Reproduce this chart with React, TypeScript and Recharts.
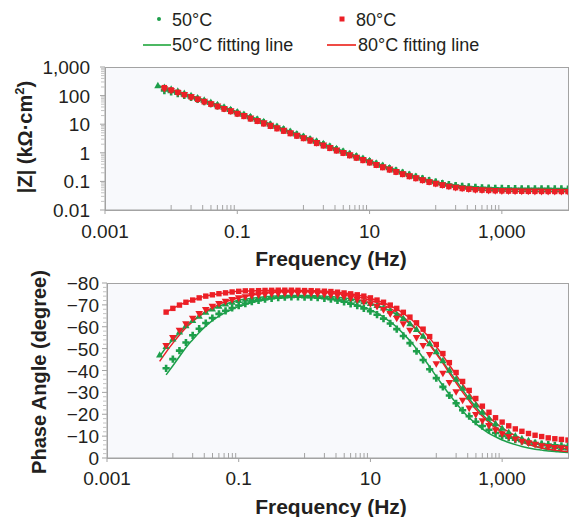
import React from "react";
import { ComposedChart, Line, XAxis, YAxis } from "recharts";

// frequencies, 10 points per decade (Hz)
const freq = [
  0.0063, 0.0079, 0.01, 0.0126, 0.0158, 0.02, 0.0251, 0.0316, 0.0398, 0.0501, 0.0631, 0.0794,
  0.1, 0.126, 0.158, 0.2, 0.251, 0.316, 0.398, 0.501, 0.631, 0.794,
  1, 1.26, 1.58, 2, 2.51, 3.16, 3.98, 5.01, 6.31, 7.94,
  10, 12.6, 15.8, 20, 25.1, 31.6, 39.8, 50.1, 63.1, 79.4,
  100, 126, 158, 200, 251, 316, 398, 501, 631, 794,
  1000, 1259, 1585, 1995, 2512, 3162, 3981, 5012, 6310, 7943, 10000,
];

// |Z| in kΩ·cm²
const mag50a = [
  null, 150, 135, 117, 101, 86.9, 73.6, 61.9, 51.9, 43.3, 35.9, 29.7,
  24.5, 20.3, 16.7, 13.8, 11.3, 9.31, 7.69, 6.31, 5.18, 4.25,
  3.48, 2.86, 2.34, 1.92, 1.58, 1.29, 1.06, 0.877, 0.721, 0.596,
  0.491, 0.406, 0.337, 0.279, 0.233, 0.196, 0.166, 0.141, 0.122, 0.106,
  0.094, 0.0841, 0.0769, 0.0713, 0.0671, 0.0639, 0.0616, 0.0597, 0.0585, 0.0574,
  0.0566, 0.0561, 0.0556, 0.0553, 0.055, 0.0549, 0.0547, 0.0546, 0.0545, 0.0544, 0.0543,
];
const mag50b = [
  223, 195, 168, 143, 121, 101, 84.5, 70.3, 58.2, 48.2, 39.8, 32.8,
  27.0, 22.2, 18.5, 15.1, 12.4, 10.2, 8.36, 6.85, 5.62, 4.61,
  3.78, 3.1, 2.55, 2.09, 1.71, 1.41, 1.15, 0.95, 0.78, 0.644,
  0.531, 0.438, 0.363, 0.301, 0.251, 0.209, 0.177, 0.15, 0.129, 0.111,
  0.0975, 0.0867, 0.0783, 0.0718, 0.0668, 0.0634, 0.0607, 0.0587, 0.057, 0.0558,
  0.0553, 0.0545, 0.054, 0.0536, 0.0532, 0.053, 0.0528, 0.0527, 0.0526, 0.0525, 0.0524,
];
const mag80a = [
  null, 190, 158, 131, 108, 89.5, 73.8, 60.7, 50.0, 41.1, 33.8, 27.8,
  22.8, 18.7, 15.3, 12.6, 10.3, 8.47, 6.95, 5.7, 4.68, 3.84,
  3.16, 2.59, 2.13, 1.75, 1.43, 1.17, 0.966, 0.794, 0.655, 0.54,
  0.445, 0.366, 0.303, 0.252, 0.21, 0.175, 0.148, 0.126, 0.108, 0.0933,
  0.0818, 0.0728, 0.0659, 0.0604, 0.0564, 0.0533, 0.0512, 0.0494, 0.0482, 0.0472,
  0.0465, 0.0459, 0.0455, 0.0452, 0.0449, 0.0447, 0.0446, 0.0445, 0.0444, 0.0443, 0.0442,
];
const mag80b = [
  null, 170, 147, 125, 106, 88.5, 74.0, 61.5, 50.9, 42.2, 34.8, 28.7,
  23.6, 19.5, 16.1, 13.2, 10.9, 8.91, 7.31, 6.0, 4.92, 4.04,
  3.31, 2.72, 2.23, 1.83, 1.5, 1.23, 1.01, 0.832, 0.684, 0.564,
  0.465, 0.384, 0.317, 0.263, 0.218, 0.182, 0.153, 0.13, 0.111, 0.0957,
  0.0834, 0.074, 0.0664, 0.0607, 0.0564, 0.0532, 0.0507, 0.0489, 0.0474, 0.0465,
  0.0458, 0.0451, 0.0447, 0.0444, 0.0441, 0.0439, 0.0438, 0.0437, 0.0436, 0.0435, 0.0435,
];

// phase angle, degrees
const phase50a = [
  null, -41.0, -45.2, -49.1, -52.8, -56.1, -59.1, -61.7, -64.0, -65.9, -67.3, -68.6,
  -69.7, -70.6, -71.5, -72.1, -72.6, -73.0, -73.3, -73.5, -73.6, -73.7,
  -73.5, -73.5, -73.3, -73.0, -72.6, -72.0, -71.4, -70.5, -69.6, -68.4,
  -67.1, -65.5, -63.7, -61.5, -58.9, -55.8, -52.5, -48.8, -44.8, -40.6,
  -36.5, -32.5, -28.6, -25.0, -21.8, -19.1, -16.6, -14.6, -12.9, -11.4,
  -10.1, -9.3, -8.4, -7.7, -7.1, -6.7, -6.4, -6.1, -5.8, -5.6, -5.5,
];
const phase50b = [
  -47.1, -51.0, -54.5, -57.7, -60.5, -62.9, -64.9, -66.7, -68.2, -69.4, -70.4, -71.3,
  -72.1, -72.6, -73.0, -73.4, -73.7, -74.0, -74.1, -74.2, -74.3, -74.3,
  -74.3, -74.2, -74.1, -74.0, -73.8, -73.5, -73.2, -72.8, -72.2, -71.5,
  -70.7, -69.8, -68.6, -67.3, -65.7, -63.8, -61.4, -58.8, -55.7, -52.3,
  -48.6, -44.5, -40.2, -36.1, -31.9, -27.9, -24.3, -21.0, -18.2, -15.7,
  -13.6, -11.8, -10.2, -8.9, -8.0, -7.1, -6.4, -5.7, -5.3, -4.9, -4.6,
];
const phase80a = [
  null, -66.7, -68.4, -69.9, -71.2, -72.2, -73.2, -74.0, -74.6, -75.1, -75.5, -75.9,
  -76.2, -76.4, -76.4, -76.5, -76.6, -76.65, -76.7, -76.7, -76.7, -76.65,
  -76.55, -76.5, -76.35, -76.25, -76.1, -75.8, -75.45, -75.05, -74.6, -74.0,
  -73.2, -72.2, -71.2, -69.9, -68.4, -66.6, -64.4, -61.8, -58.9, -55.5,
  -51.9, -47.75, -43.6, -39.1, -35.0, -30.9, -27.2, -23.7, -20.9, -18.4,
  -16.4, -14.7, -13.3, -12.2, -11.2, -10.4, -9.8, -9.2, -8.8, -8.5, -8.2,
];
const phase80b = [
  null, -51.3, -54.9, -58.3, -61.2, -63.8, -65.9, -67.7, -69.2, -70.5, -71.5, -72.3,
  -73.1, -73.6, -74.1, -74.4, -74.7, -75.0, -75.1, -75.2, -75.2, -75.2,
  -75.3, -75.2, -75.0, -74.8, -74.4, -74.1, -73.6, -73.1, -72.3, -71.3,
  -70.4, -69.2, -67.7, -65.9, -63.8, -61.2, -58.3, -54.9, -51.3, -47.2,
  -43.0, -38.6, -34.4, -30.2, -26.3, -22.7, -19.7, -16.9, -14.7, -12.7,
  -11.0, -9.7, -8.5, -7.5, -6.8, -6.1, -5.5, -5.1, -4.7, -4.5, -4.2,
];

// fitting lines, phase
const fit50a = [
  null, -38.0, -42.2, -46.4, -50.5, -54.1, -57.4, -60.3, -62.8, -64.9, -66.5, -68.0,
  -69.2, -70.2, -71.1, -71.8, -72.3, -72.8, -73.1, -73.4, -73.6, -73.6,
  -73.6, -73.6, -73.3, -73.0, -72.7, -72.2, -71.7, -70.9, -69.9, -68.9,
  -67.7, -66.2, -64.4, -62.2, -59.8, -56.8, -53.6, -49.9, -45.8, -41.7,
  -37.3, -33.1, -29.0, -25.1, -21.5, -18.4, -15.7, -13.3, -11.3, -9.7,
  -8.2, -7.1, -6.1, -5.3, -4.6, -4.0, -3.6, -3.2, -3.0, -2.7, -2.5,
];
const fit50b = [
  -46.4, -50.5, -54.1, -57.4, -60.3, -62.8, -64.9, -66.7, -68.2, -69.4, -70.4, -71.3,
  -72.1, -72.6, -73.0, -73.4, -73.7, -74.0, -74.1, -74.2, -74.3, -74.3,
  -74.3, -74.2, -74.1, -74.0, -73.8, -73.5, -73.2, -72.8, -72.2, -71.5,
  -70.7, -69.8, -68.6, -67.3, -65.6, -63.7, -61.3, -58.6, -55.4, -52.0,
  -48.1, -44.0, -39.7, -35.4, -31.2, -27.1, -23.4, -19.9, -17.0, -14.4,
  -12.1, -10.3, -8.6, -7.3, -6.3, -5.3, -4.55, -3.85, -3.35, -3.0, -2.7,
];
const fit80a = [
  null, -66.6, -68.4, -69.9, -71.2, -72.2, -73.2, -74.0, -74.6, -75.1, -75.5, -75.9,
  -76.2, -76.4, -76.4, -76.5, -76.6, -76.65, -76.7, -76.7, -76.7, -76.65,
  -76.55, -76.5, -76.35, -76.25, -76.1, -75.8, -75.45, -75.05, -74.6, -74.0,
  -73.0, -72.0, -70.95, -69.6, -68.05, -66.15, -63.9, -61.2, -58.2, -54.8,
  -51.0, -46.8, -42.5, -38.0, -33.7, -29.5, -25.5, -21.9, -18.7, -16.1,
  -13.8, -11.9, -10.2, -8.85, -7.8, -6.8, -6.0, -5.4, -4.9, -4.45, -4.1,
];
const fit80b = [
  -44.2, -48.4, -52.5, -56.2, -59.5, -62.3, -64.8, -67.0, -68.7, -70.2, -71.4, -72.3,
  -73.25, -73.9, -74.45, -74.9, -75.25, -75.6, -75.9, -76.0, -76.1, -76.1,
  -76.1, -76.05, -75.95, -75.8, -75.55, -75.2, -74.8, -74.35, -73.8, -73.0,
  -72.05, -71.1, -69.9, -68.4, -66.6, -64.4, -61.8, -58.9, -55.5, -51.8,
  -47.6, -43.4, -38.8, -34.4, -30.1, -26.1, -22.3, -19.1, -16.2, -13.8,
  -11.7, -9.9, -8.5, -7.25, -6.2, -5.4, -4.65, -4.1, -3.6, -3.25, -2.95,
];

// ticks
const xMajor = [0.001, 0.1, 10, 1000];
const xLabels = ["0.001", "0.1", "10", "1,000"];
const xMinor = [
  0.01, 0.02, 0.03, 0.04, 0.05, 0.06, 0.07, 0.08, 0.09,
  1, 2, 3, 4, 5, 6, 7, 8, 9,
  100, 200, 300, 400, 500, 600, 700, 800, 900,
];
const magMajor = [0.01, 0.1, 1, 10, 100, 1000];
const magLabels = ["0.01", "0.1", "1", "10", "100", "1,000"];
const magMinor = [
  0.02, 0.03, 0.04, 0.05, 0.06, 0.07, 0.08, 0.09,
  0.2, 0.3, 0.4, 0.5, 0.6, 0.7, 0.8, 0.9,
  2, 3, 4, 5, 6, 7, 8, 9,
  20, 30, 40, 50, 60, 70, 80, 90,
  200, 300, 400, 500, 600, 700, 800, 900,
];
const phaseMajor = [-80, -70, -60, -50, -40, -30, -20, -10, 0];
const phaseLabels = ["\u221280", "\u221270", "\u221260", "\u221250", "\u221240", "\u221230", "\u221220", "\u221210", "0"];
const phaseMinor = [
  -78, -76, -74, -72, -68, -66, -64, -62, -58, -56, -54, -52, -48, -46, -44, -42,
  -38, -36, -34, -32, -28, -26, -24, -22, -18, -16, -14, -12, -8, -6, -4, -2,
];

const rows = freq.map((f, i) => ({
  f,
  m50a: mag50a[i],
  m50b: mag50b[i],
  m80a: mag80a[i],
  m80b: mag80b[i],
  p50a: phase50a[i],
  p50b: phase50b[i],
  p80a: phase80a[i],
  p80b: phase80b[i],
  q50a: fit50a[i],
  q50b: fit50b[i],
  q80a: fit80a[i],
  q80b: fit80b[i],
}));

const FONT = '"Liberation Sans", Arial, Helvetica, sans-serif';
const INK = "#231f20";
const AXIS = "#a3a3a3";
const GREEN = "#1d9f4b";
const RED = "#ec1f26";
const BG = "#f8f9fc";

const empty = (p: any) => <g key={`e-${p.index}`} />;

const crossDot = (p: any) => {
  const { cx, cy } = p;
  if (cx == null || cy == null) return empty(p);
  return (
    <path
      key={`c-${p.index}`}
      d={`M${cx - 1.3},${cy - 3.6}h2.6v2.3h2.3v2.6h-2.3v2.3h-2.6v-2.3h-2.3v-2.6h2.3z`}
      fill={GREEN}
    />
  );
};
const triDot = (p: any) => {
  const { cx, cy } = p;
  if (cx == null || cy == null) return empty(p);
  return <path key={`t-${p.index}`} d={`M${cx},${cy - 3.8}L${cx + 3.6},${cy + 2.6}L${cx - 3.6},${cy + 2.6}Z`} fill={GREEN} />;
};
const squareDot = (p: any) => {
  const { cx, cy } = p;
  if (cx == null || cy == null) return empty(p);
  return <rect key={`s-${p.index}`} x={cx - 2.7} y={cy - 2.7} width={5.4} height={5.4} fill={RED} />;
};
const downDot = (p: any) => {
  const { cx, cy } = p;
  if (cx == null || cy == null) return empty(p);
  return <path key={`d-${p.index}`} d={`M${cx - 3.8},${cy - 2.8}L${cx + 3.8},${cy - 2.8}L${cx},${cy + 3.8}Z`} fill={RED} />;
};

const makeXTick = (labelDy: number) => (props: any) => {
  const { x, y, payload } = props;
  const i = xMajor.indexOf(payload.value);
  if (i >= 0) {
    return (
      <g>
        <line x1={x} x2={x} y1={y} y2={y + 4} stroke={AXIS} />
        <text x={x} y={y + labelDy} textAnchor="middle" fontFamily={FONT} fontSize={19} fill={INK}>
          {xLabels[i]}
        </text>
      </g>
    );
  }
  return <line x1={x} x2={x} y1={y} y2={y - 5} stroke={AXIS} />;
};

const makeYTick = (major: number[], labels: string[], gap: number) => (props: any) => {
  const { x, y, payload } = props;
  const i = major.indexOf(payload.value);
  if (i >= 0) {
    return (
      <g>
        <line x1={x - 5} x2={x} y1={y} y2={y} stroke={AXIS} />
        <text x={x - gap} y={y + 7} textAnchor="end" fontFamily={FONT} fontSize={19} fill={INK}>
          {labels[i]}
        </text>
      </g>
    );
  }
  return <line x1={x - 4} x2={x} y1={y} y2={y} stroke="#c4c4c4" />;
};

function PlotFrame({ left, top, width, height }: { left: number; top: number; width: number; height: number }) {
  return (
    <div
      style={{
        position: "absolute",
        left,
        top,
        width,
        height,
        background: BG,
        border: `1px solid ${AXIS}`,
        boxSizing: "border-box",
      }}
    />
  );
}

function MagnitudeChart() {
  return (
    <div style={{ position: "absolute", left: 0, top: 0 }}>
      <ComposedChart width={569} height={245} data={rows} margin={{ top: 67, right: 1, left: 45, bottom: 0 }}>
        <XAxis
          dataKey="f"
          type="number"
          scale="log"
          domain={[0.001, 10000]}
          allowDataOverflow
          ticks={[...xMajor, ...xMinor]}
          interval={0}
          tickSize={0}
          tickMargin={0}
          tickLine={false}
          axisLine={{ stroke: AXIS }}
          tick={makeXTick(28)}
          height={35}
        />
        <YAxis
          type="number"
          scale="log"
          domain={[0.01, 1000]}
          allowDataOverflow
          ticks={[...magMajor, ...magMinor]}
          interval={0}
          tickSize={0}
          tickMargin={0}
          tickLine={false}
          axisLine={{ stroke: AXIS }}
          tick={makeYTick(magMajor, magLabels, 15)}
          width={60}
        />
        <Line dataKey="m50b" type="monotone" stroke={GREEN} strokeWidth={1.5} dot={false} activeDot={false} isAnimationActive={false} />
        <Line dataKey="m80b" type="monotone" stroke={RED} strokeWidth={1.5} dot={false} activeDot={false} isAnimationActive={false} />
        <Line dataKey="m50a" stroke="none" dot={crossDot} activeDot={false} isAnimationActive={false} />
        <Line dataKey="m50b" stroke="none" dot={triDot} activeDot={false} isAnimationActive={false} />
        <Line dataKey="m80b" stroke="none" dot={downDot} activeDot={false} isAnimationActive={false} />
        <Line dataKey="m80a" stroke="none" dot={squareDot} activeDot={false} isAnimationActive={false} />
      </ComposedChart>
    </div>
  );
}

function PhaseChart() {
  return (
    <div style={{ position: "absolute", left: 0, top: 270 }}>
      <ComposedChart width={569} height={230} data={rows} margin={{ top: 13, right: 1, left: 47, bottom: 0 }}>
        <XAxis
          dataKey="f"
          type="number"
          scale="log"
          domain={[0.001, 10000]}
          allowDataOverflow
          ticks={[...xMajor, ...xMinor]}
          interval={0}
          tickSize={0}
          tickMargin={0}
          tickLine={false}
          axisLine={{ stroke: AXIS }}
          tick={makeXTick(27)}
          height={42}
        />
        <YAxis
          type="number"
          domain={[-80, 0]}
          reversed
          allowDataOverflow
          ticks={[...phaseMajor, ...phaseMinor]}
          interval={0}
          tickSize={0}
          tickMargin={0}
          tickLine={false}
          axisLine={{ stroke: AXIS }}
          tick={makeYTick(phaseMajor, phaseLabels, 8)}
          width={60}
        />
        <Line dataKey="p50a" stroke="none" dot={crossDot} activeDot={false} isAnimationActive={false} />
        <Line dataKey="p50b" stroke="none" dot={triDot} activeDot={false} isAnimationActive={false} />
        <Line dataKey="p80b" stroke="none" dot={downDot} activeDot={false} isAnimationActive={false} />
        <Line dataKey="p80a" stroke="none" dot={squareDot} activeDot={false} isAnimationActive={false} />
        <Line dataKey="q50b" type="monotone" stroke={GREEN} strokeWidth={1.5} dot={false} activeDot={false} isAnimationActive={false} />
        <Line dataKey="q50a" type="monotone" stroke={GREEN} strokeWidth={1.5} dot={false} activeDot={false} isAnimationActive={false} />
        <Line dataKey="q80a" type="monotone" stroke={RED} strokeWidth={1.5} dot={false} activeDot={false} isAnimationActive={false} />
        <Line dataKey="q80b" type="monotone" stroke={RED} strokeWidth={1.5} dot={false} activeDot={false} isAnimationActive={false} />
      </ComposedChart>
    </div>
  );
}

function Annotations() {
  const t = { fontFamily: FONT, fill: INK };
  return (
    <svg width={569} height={517} style={{ position: "absolute", left: 0, top: 0, pointerEvents: "none" }}>
      {/* legend */}
      <circle cx={159} cy={19} r={2} fill={GREEN} />
      <text x={172} y={26} fontSize={18} {...t}>50°C</text>
      <rect x={339.5} y={16.5} width={5} height={5} fill={RED} />
      <text x={356} y={26} fontSize={18} {...t}>80°C</text>
      <line x1={143} x2={171} y1={45} y2={45} stroke="#4cb863" strokeWidth={2} />
      <text x={172} y={51} fontSize={18} {...t}>50°C fitting line</text>
      <line x1={327} x2={356} y1={45} y2={45} stroke="#ef4b45" strokeWidth={2} />
      <text x={358} y={51} fontSize={18} {...t}>80°C fitting line</text>

      {/* axis titles */}
      <text x={331} y={266} fontSize={21} fontWeight="bold" textAnchor="middle" {...t}>Frequency (Hz)</text>
      <text x={331} y={514} fontSize={21} fontWeight="bold" textAnchor="middle" {...t}>Frequency (Hz)</text>
      <text transform="translate(32,137) rotate(-90)" fontSize={20} fontWeight="bold" textAnchor="middle" {...t}>
        |Z| (kΩ·cm<tspan fontSize={13} dy={-8}>2</tspan><tspan dy={8}>)</tspan>
      </text>
      <text transform="translate(46,372) rotate(-90)" fontSize={20} fontWeight="bold" textAnchor="middle" {...t}>
        Phase Angle (degree)
      </text>
    </svg>
  );
}

export default function App() {
  return (
    <div style={{ position: "absolute", left: 0, top: 0, width: 569, height: 517, background: "#fff", overflow: "hidden" }}>
      <PlotFrame left={105} top={67} width={464} height={144} />
      <PlotFrame left={107} top={283} width={462} height={176} />
      <MagnitudeChart />
      <PhaseChart />
      <Annotations />
    </div>
  );
}
